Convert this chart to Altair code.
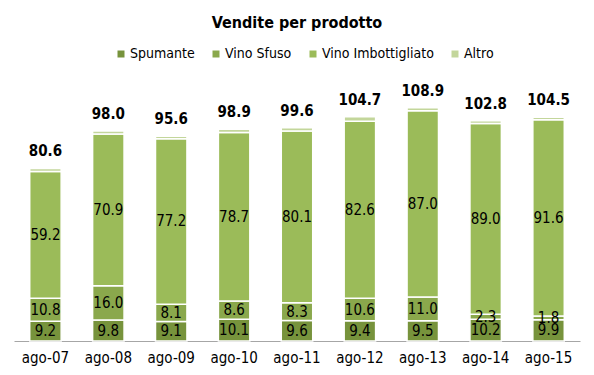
import altair as alt
import pandas as pd

periods = ["ago-07", "ago-08", "ago-09", "ago-10", "ago-11", "ago-12", "ago-13", "ago-14", "ago-15"]
series = ["Spumante", "Vino Sfuso", "Vino Imbottigliato", "Altro"]
spumante = [9.2, 9.8, 9.1, 10.1, 9.6, 9.4, 9.5, 10.2, 9.9]
vino_sfuso = [10.8, 16.0, 8.1, 8.6, 8.3, 10.6, 11.0, 2.3, 1.8]
vino_imbott = [59.2, 70.9, 77.2, 78.7, 80.1, 82.6, 87.0, 89.0, 91.6]
altro = [1.4, 1.3, 1.2, 1.5, 1.6, 2.1, 1.4, 1.3, 1.2]
totals = [80.6, 98.0, 95.6, 98.9, 99.6, 104.7, 108.9, 102.8, 104.5]
colors = ["#77933c", "#8aa84c", "#9bbb59", "#c3d69b"]

rows = []
for s_i, (name, vals) in enumerate(zip(series, [spumante, vino_sfuso, vino_imbott, altro])):
    for p, v in zip(periods, vals):
        rows.append({"periodo": p, "serie": name, "valore": v, "ordine": s_i})
df = pd.DataFrame(rows)
tot_df = pd.DataFrame({"periodo": periods, "totale": totals})

FONT = "DejaVu Sans Condensed, Liberation Sans Narrow, sans-serif"

x = alt.X("periodo:N", sort=periods, title=None,
          scale=alt.Scale(paddingInner=0.5, paddingOuter=0.25),
          axis=alt.Axis(labelAngle=0, ticks=False, labelFontSize=15, labelColor="#000000",
                        labelFont=FONT, domainColor="#a6a6a6", labelPadding=9))
yscale = alt.Scale(domain=[0, 120])

base = alt.Chart(df).transform_stack(
    stack="valore", groupby=["periodo"], as_=["y0", "y1"],
    sort=[alt.SortField("ordine", order="ascending")]
).transform_calculate(mid="(datum.y0 + datum.y1) / 2")

bars = base.mark_bar(stroke="white", strokeWidth=1.5).encode(
    x=x,
    y=alt.Y("y0:Q", scale=yscale, axis=None),
    y2="y1:Q",
    color=alt.Color("serie:N", sort=series,
                    scale=alt.Scale(domain=series, range=colors),
                    legend=alt.Legend(title=None, orient="none", direction="horizontal",
                                      legendX=100, legendY=-37, symbolType="square",
                                      symbolSize=49, symbolStrokeWidth=0, labelFontSize=14,
                                      labelFont=FONT, labelColor="#000000", columnPadding=14,
                                      symbolOffset=0, labelOffset=2)),
)

seg_labels = base.transform_filter("datum.serie != 'Altro'").mark_text(
    fontSize=15, font=FONT, color="#000000", baseline="middle"
).encode(
    x=alt.X("periodo:N", sort=periods),
    y=alt.Y("mid:Q", scale=yscale),
    text=alt.Text("valore:Q", format=".1f"),
)

tot_labels = alt.Chart(tot_df).mark_text(
    fontSize=15, font=FONT, fontWeight="bold", color="#000000", baseline="bottom", dy=-9
).encode(
    x=alt.X("periodo:N", sort=periods),
    y=alt.Y("totale:Q", scale=yscale),
    text=alt.Text("totale:Q", format=".1f"),
)

chart = alt.layer(bars, seg_labels, tot_labels).properties(
    width=566, height=257,
    title=alt.TitleParams("Vendite per prodotto", fontSize=16, font=FONT, fontWeight="bold",
                          anchor="middle", color="#000000", offset=16),
    padding={"left": 6, "right": 6, "top": 76, "bottom": 30},
    autosize=alt.AutoSizeParams(type="none"),
).configure_view(stroke=None)

chart.save("out.html", embed_options={"renderer": "svg", "actions": False})
